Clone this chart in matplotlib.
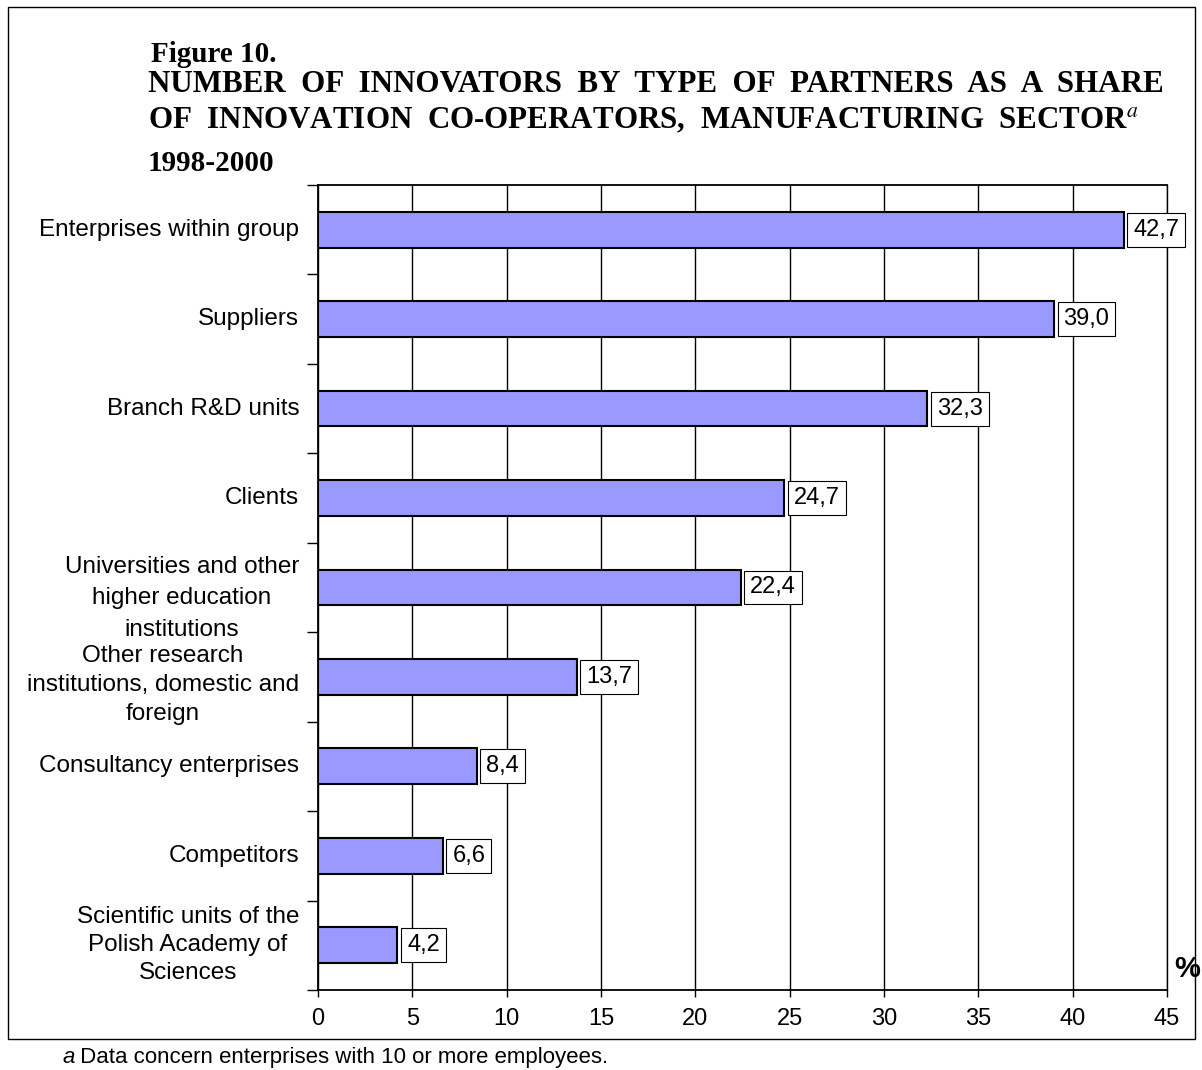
import matplotlib.pyplot as plt
from matplotlib.patches import Rectangle

partners = ['Enterprises within group', 'Suppliers', 'Branch R&D units', 'Clients',
            'Universities and other\nhigher education\ninstitutions',
            'Other research\ninstitutions, domestic and\nforeign',
            'Consultancy enterprises', 'Competitors',
            'Scientific units of the\nPolish Academy of\nSciences']
shares = [42.7, 39.0, 32.3, 24.7, 22.4, 13.7, 8.4, 6.6, 4.2]
xticks = [0, 5, 10, 15, 20, 25, 30, 35, 40, 45]

plt.rcParams['font.family'] = ['Liberation Sans', 'DejaVu Sans']
plt.rcParams['mathtext.fontset'] = 'stix'

fig = plt.figure(figsize=(12.02, 10.70), dpi=100)
ax = fig.add_axes([0.2646, 0.0748, 0.7063, 0.7523])

pos = list(range(len(partners)))
ax.barh(pos, shares, height=0.4, color='#9999ff', edgecolor='black', linewidth=1.5, zorder=3)

for y, v in zip(pos, shares):
    ax.annotate(format(v, '.1f').replace('.', ','), xy=(v, y), xytext=(7, 0),
                textcoords='offset points', va='center', ha='left', fontsize=17,
                bbox=dict(boxstyle='square,pad=0.25', fc='white', ec='black', lw=0.8),
                zorder=4)

ax.set_xlim(0, 45)
ax.set_ylim(len(partners) - 0.5, -0.5)
ax.set_xticks(xticks)
ax.set_xticklabels([str(t) for t in xticks], fontsize=17)
ax.tick_params(axis='x', length=5, width=1, pad=8)

# boundary ticks between categories, names drawn as separate text
ax.set_yticks([p - 0.5 for p in pos] + [len(partners) - 0.5])
ax.set_yticklabels([])
ax.tick_params(axis='y', length=8, width=1, direction='out')
for y, name in zip(pos, partners):
    ls, dy = 1.35, 0.0
    if name.startswith('Universities'):
        ls, dy = 1.55, 0.12
    elif name.startswith('Other'):
        ls, dy = 1.4, 0.09
    ax.text(-1.0, y + dy, name, ha='right', va='center', multialignment='center',
            fontsize=17.5, linespacing=ls)

ax.grid(axis='x', color='black', linewidth=1.0, zorder=0)
ax.spines['right'].set_linewidth(1.0)
for s in ['top', 'left', 'bottom']:
    ax.spines[s].set_linewidth(1.3)

fig.text(0.988, 0.0944, '%', fontsize=21, fontweight='bold', ha='center', va='center')

serif = ['Liberation Serif', 'DejaVu Serif']
fig.text(0.1256, 0.9421, 'Figure 10.', family=serif, fontsize=21, fontweight='bold', va='baseline')
fig.text(0.1231, 0.914, 'NUMBER  OF  INNOVATORS  BY  TYPE  OF  PARTNERS  AS  A  SHARE',
         family=serif, fontsize=22.3, fontweight='bold', va='baseline')
fig.text(0.1231, 0.8804, 'OF  INNOVATION  CO-OPERATORS,  MANUFACTURING  SECTOR$^{\\mathit{a}}$',
         family=serif, fontsize=22.3, fontweight='bold', va='baseline')
fig.text(0.1231, 0.8402, '1998-2000', family=serif, fontsize=21, fontweight='bold', va='baseline')

# footnote: italic marker followed by the plain note
note_a = fig.text(0.0516, 0.0121, 'a', fontsize=16, style='italic', va='center')
ax.annotate(' Data concern enterprises with 10 or more employees.', xy=(1, 0),
            xycoords=note_a, va='bottom', ha='left', fontsize=16, annotation_clip=False)

fig.add_artist(Rectangle((0.0067, 0.029), 0.9875, 0.9645, transform=fig.transFigure,
                         fill=False, ec='black', lw=1.0))

fig.savefig('out.png', dpi=100)
